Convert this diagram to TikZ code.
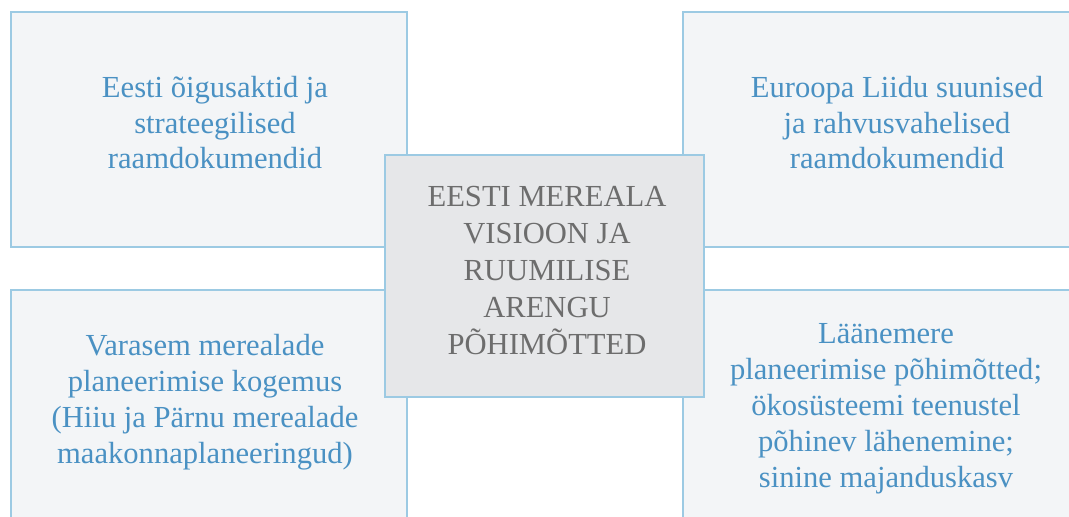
\documentclass[tikz,border=0pt]{standalone}
\usepackage{fontspec}
\setmainfont{Liberation Serif}
\usetikzlibrary{positioning}
\definecolor{cadreblue}{HTML}{9CCAE3}
\definecolor{cadrefill}{HTML}{F3F5F7}
\definecolor{sourceblue}{HTML}{4A91C3}
\definecolor{visionfill}{HTML}{E6E7E9}
\definecolor{visiongrey}{HTML}{6D6D6D}
\tikzset{
  sourcebox/.style={
    draw=cadreblue, fill=cadrefill, line width=1pt,
    minimum width=198pt, minimum height=117.5pt,
    inner sep=0pt,
  },
  sourcetext/.style={
    text=sourceblue, align=center, anchor=base, inner sep=0pt,
    font=\fontsize{15.3}{17.9}\selectfont,
  },
  visionbox/.style={
    draw=cadreblue, fill=visionfill, line width=1pt,
    minimum width=159.5pt, minimum height=121pt,
    inner sep=0pt,
  },
  visiontext/.style={
    text=visiongrey, align=center, anchor=base, inner sep=0pt,
    font=\fontsize{15.3}{18.5}\selectfont,
  },
}
\begin{document}
\begin{tikzpicture}[x=0.5pt, y=-0.5pt]
    \useasboundingbox (   0.0,   0.0) rectangle (1069.0, 517.0) ;
    \clip (   0.0,   0.0) rectangle (1069.0, 517.0) ;

    \node [sourcebox] (lawsbox)  at ( 209.0, 129.5) {} ;
    \node [sourcebox] (eubox)    at ( 881.0, 129.5) {} ;
    \node [sourcebox] (pastbox)  at ( 209.0, 407.5) {} ;
    \node [sourcebox] (balticbox) at ( 881.0, 407.5) {} ;

    \node [sourcetext] (lawstext) at ( 215.0, 169.0)
          {Eesti õigusaktid ja\\strateegilised\\raamdokumendid} ;
    \node [sourcetext] (eutext) at ( 897.0, 169.0)
          {Euroopa Liidu suunised\\ja rahvusvahelised\\raamdokumendid} ;
    \node [sourcetext] (pasttext) at ( 205.0, 463.0)
          {Varasem merealade\\planeerimise kogemus\\(Hiiu ja Pärnu merealade\\maakonnaplaneeringud)} ;
    \node [sourcetext] (baltictext) at ( 886.0, 487.0)
          {Läänemere\\planeerimise põhimõtted;\\ökosüsteemi teenustel\\põhinev lähenemine;\\sinine majanduskasv} ;

    \node [visionbox] (visionbox) at ( 544.5, 276.0) {} ;
    \node [visiontext] (visiontext) at ( 547.0, 355.0)
          {EESTI MEREALA\\VISIOON JA\\RUUMILISE\\ARENGU\\PÕHIMÕTTED} ;
\end{tikzpicture}
\end{document}
